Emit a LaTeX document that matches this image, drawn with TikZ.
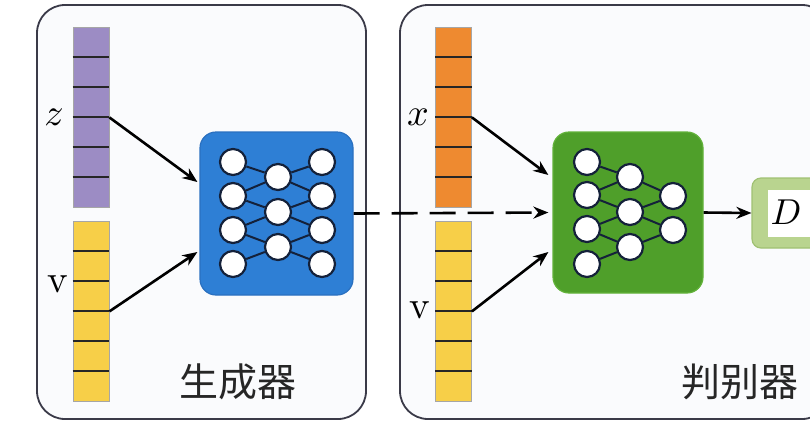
\documentclass[tikz,border=0pt]{standalone}
\usepackage{graphicx}
\usepackage{fontspec}
\newfontfamily\cjk{Noto Sans CJK SC}
\usetikzlibrary{arrows.meta}
\definecolor{panelc}{HTML}{3A3A48}
\definecolor{panelf}{HTML}{FAFBFD}
\definecolor{purplec}{HTML}{9C8CC4}
\definecolor{orangec}{HTML}{EE8A30}
\definecolor{yellowc}{HTML}{F7CF48}
\definecolor{bluec}{HTML}{2E7FD5}
\definecolor{blueb}{HTML}{2A70C0}
\definecolor{greenc}{HTML}{4F9F2A}
\definecolor{greenb}{HTML}{62B23A}
\definecolor{dgreen}{HTML}{B9D48F}
\definecolor{dgreenb}{HTML}{A0C173}
\definecolor{neuronc}{HTML}{14213A}
\newcommand{\bigmath}[2]{\scalebox{#1}{$\displaystyle #2$}}
\begin{document}
\begin{tikzpicture}[x=1pt,y=-1pt,
  panel/.style={draw=panelc, line width=1.8pt, fill=panelf, rounded corners=28pt, inner sep=0pt},
  cellbox/.style={minimum width=36pt, minimum height=30pt, inner sep=0pt, draw=gray!70, line width=0.8pt},
  divider/.style={draw=black!85, line width=2pt},
  netbox/.style={rounded corners=16pt, inner sep=0pt, line width=1.2pt},
  neuron/.style={circle, fill=white, draw=neuronc, line width=2.2pt, minimum size=26pt, inner sep=0pt},
  link/.style={draw=neuronc, line width=2pt},
  arr/.style={-{Stealth[length=15pt,width=12pt]}, line width=2.6pt, black},
  lbl/.style={inner sep=0pt},
  title/.style={inner sep=0pt, text=black!85, font=\cjk\fontsize{39}{39}\selectfont},
]
\useasboundingbox (0,0) rectangle (810,424);
\clip (0,0) rectangle (810,424);
\fill[white] (0,0) rectangle (810,424);

% panels
\node[panel, minimum width=329pt, minimum height=414pt] (genpanel) at (201.5,212) {};
\node[panel, minimum width=430pt, minimum height=414pt] (dispanel) at (615,212) {};

% bars
\foreach \i in {1,...,6} {
  \node[cellbox, fill=purplec] (z\i) at (91,{12+30*\i}) {};
  \node[cellbox, fill=yellowc] (gv\i) at (91,{206+30*\i}) {};
  \node[cellbox, fill=orangec] (x\i) at (453.5,{12+30*\i}) {};
  \node[cellbox, fill=yellowc] (dv\i) at (453.5,{206+30*\i}) {};
}
\foreach \i in {1,...,5} {
  \draw[divider] (z\i.south west) -- (z\i.south east);
  \draw[divider] (gv\i.south west) -- (gv\i.south east);
  \draw[divider] (x\i.south west) -- (x\i.south east);
  \draw[divider] (dv\i.south west) -- (dv\i.south east);
}

% labels
\node[lbl] (zl) at (54,117) {\bigmath{3.8}{z}};
\node[lbl] (gvl) at (58,284) {\scalebox{3.9}{\textrm{v}}};
\node[lbl] (xl) at (418,117) {\bigmath{3.8}{x}};
\node[lbl] (dvl) at (420,310) {\scalebox{3.9}{\textrm{v}}};

% network boxes
\node[netbox, fill=bluec, draw=blueb, minimum width=153pt, minimum height=163pt] (gen) at (276.5,213.5) {};
\node[netbox, fill=greenc, draw=greenb, minimum width=150pt, minimum height=161pt] (disc) at (628,212.5) {};

% generator neurons
\foreach \i/\y in {1/162,2/196,3/230,4/264} {
  \node[neuron] (gl\i) at (233,\y) {};
  \node[neuron] (gr\i) at (322,\y) {};
}
\foreach \i/\y in {1/177,2/212,3/247} {
  \node[neuron] (gm\i) at (278,\y) {};
}
\foreach \a/\b in {1/1,2/1,2/2,3/2,3/3,4/3} {
  \draw[link] (gl\a) -- (gm\b);
}
\foreach \a/\b in {1/1,1/2,2/2,2/3,3/3,3/4} {
  \draw[link] (gm\a) -- (gr\b);
}

% discriminator neurons
\foreach \i/\y in {1/162,2/195,3/229,4/264} {
  \node[neuron] (dl\i) at (587,\y) {};
}
\foreach \i/\y in {1/177,2/212,3/247} {
  \node[neuron] (dm\i) at (630,\y) {};
}
\foreach \i/\y in {1/196,2/230} {
  \node[neuron] (dr\i) at (673,\y) {};
}
\foreach \a/\b in {1/1,2/1,2/2,3/2,3/3,4/3} {
  \draw[link] (dl\a) -- (dm\b);
}
\foreach \a/\b in {1/1,2/1,2/2,3/2} {
  \draw[link] (dm\a) -- (dr\b);
}

% output box
\node[draw=dgreenb, fill=dgreen, line width=1.2pt, rounded corners=9pt, minimum width=78pt, minimum height=70pt, inner sep=0pt] (dout) at (791,213) {};
\node[fill=white, minimum width=62pt, minimum height=47pt, inner sep=0pt] (dinner) at (799,213.5) {};
\node[inner sep=0pt] (dlabel) at (786,212) {\bigmath{3.6}{D}};

% arrows
\draw[arr] (z3.south east) -- ([yshift=31.5pt,xshift=-2pt]gen.west);
\draw[arr] (gv3.south east) -- ([yshift=-38.5pt,xshift=-2pt]gen.west);
\draw[arr] (x3.south east) -- ([yshift=37.5pt,xshift=-4pt]disc.west);
\draw[arr] (dv3.south east) -- ([yshift=-39.5pt,xshift=-4pt]disc.west);
\draw[arr, dash pattern=on 26pt off 12pt] (gen.east) -- ([xshift=-4pt]disc.west);
\draw[arr] (disc.east) -- (dout.west);

% titles
\node[title] (gentitle) at (238,382) {生成器};
\node[title] (distitle) at (740,382) {判别器};
\end{tikzpicture}
\end{document}
